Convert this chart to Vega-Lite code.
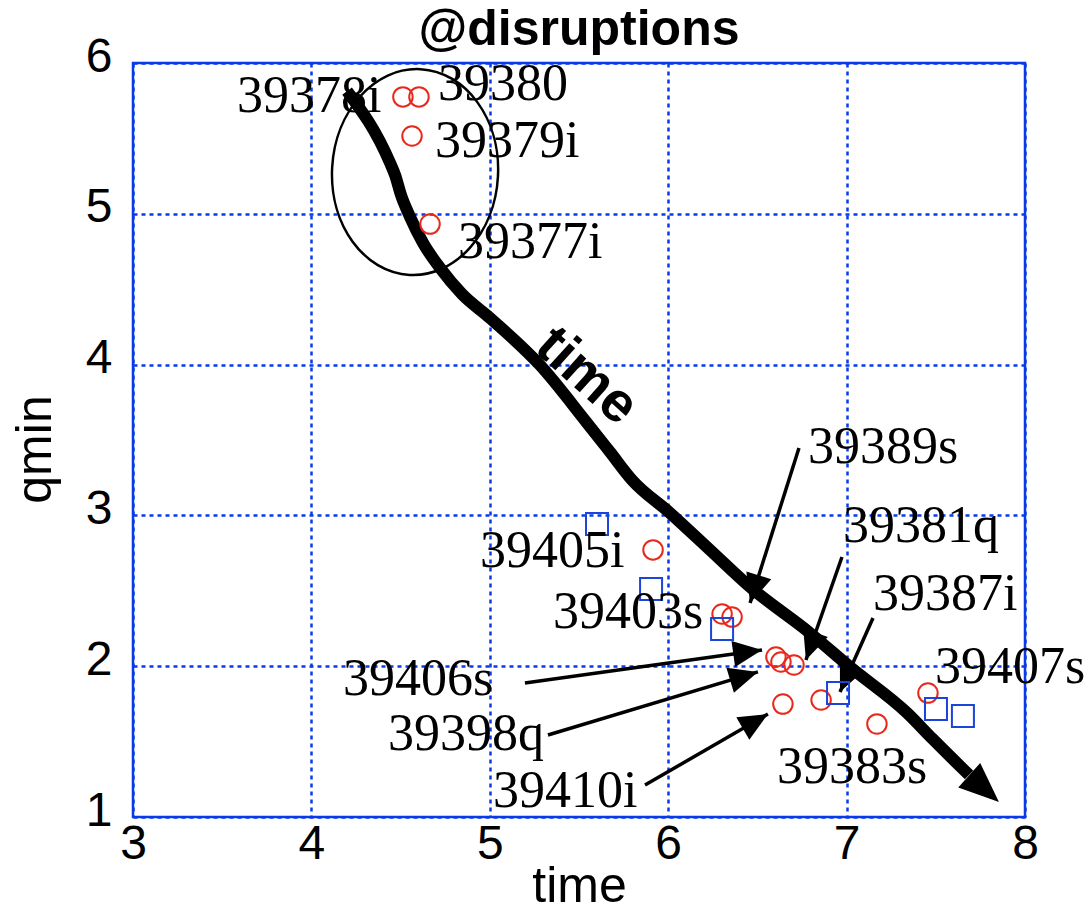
{
  "$schema": "https://vega.github.io/schema/vega-lite/v6.json",
  "width": 892,
  "height": 754,
  "autosize": {"type": "none"},
  "padding": {"left": 133, "top": 63, "right": 65, "bottom": 95},
  "background": "white",
  "title": {
    "text": "@disruptions",
    "font": "Liberation Sans",
    "fontWeight": "bold",
    "fontSize": 50,
    "color": "black",
    "anchor": "middle",
    "frame": "group",
    "baseline": "alphabetic",
    "offset": -62
  },
  "datasets": {
    "path": [
      {"o": 1, "x": 4.200, "y": 5.814},
      {"o": 2, "x": 4.441, "y": 5.337},
      {"o": 3, "x": 4.469, "y": 5.257},
      {"o": 4, "x": 4.502, "y": 5.125},
      {"o": 5, "x": 4.553, "y": 4.979},
      {"o": 6, "x": 4.626, "y": 4.806},
      {"o": 7, "x": 4.721, "y": 4.641},
      {"o": 8, "x": 4.844, "y": 4.468},
      {"o": 9, "x": 5.001, "y": 4.309},
      {"o": 10, "x": 5.281, "y": 3.997},
      {"o": 11, "x": 5.545, "y": 3.613},
      {"o": 12, "x": 5.674, "y": 3.420},
      {"o": 13, "x": 5.797, "y": 3.235},
      {"o": 14, "x": 6.010, "y": 3.016},
      {"o": 15, "x": 6.234, "y": 2.771},
      {"o": 16, "x": 6.459, "y": 2.525},
      {"o": 17, "x": 6.795, "y": 2.220},
      {"o": 18, "x": 7.019, "y": 1.995},
      {"o": 19, "x": 7.339, "y": 1.690},
      {"o": 20, "x": 7.480, "y": 1.520},
      {"o": 21, "x": 7.686, "y": 1.279}
    ],
    "pathTip": [
      {"x": 7.854, "y": 1.099, "heading": 42}
    ],
    "pathLabel": [
      {"x": 5.545, "y": 3.925, "t": "time"}
    ],
    "cluster": [
      {"x": 4.581, "y": 5.277}
    ],
    "shots": [
      {"kind": "circle", "x": 4.513, "y": 5.775},
      {"kind": "circle", "x": 4.603, "y": 5.775},
      {"kind": "circle", "x": 4.564, "y": 5.516},
      {"kind": "circle", "x": 4.665, "y": 4.932},
      {"kind": "circle", "x": 5.915, "y": 2.771},
      {"kind": "circle", "x": 6.302, "y": 2.346},
      {"kind": "circle", "x": 6.358, "y": 2.326},
      {"kind": "circle", "x": 6.604, "y": 2.061},
      {"kind": "circle", "x": 6.632, "y": 2.028},
      {"kind": "circle", "x": 6.705, "y": 2.008},
      {"kind": "circle", "x": 6.643, "y": 1.749},
      {"kind": "circle", "x": 6.857, "y": 1.776},
      {"kind": "circle", "x": 7.170, "y": 1.617},
      {"kind": "circle", "x": 7.456, "y": 1.822},
      {"kind": "square", "x": 5.601, "y": 2.943},
      {"kind": "square", "x": 5.904, "y": 2.512},
      {"kind": "square", "x": 6.302, "y": 2.247},
      {"kind": "square", "x": 6.952, "y": 1.822},
      {"kind": "square", "x": 7.501, "y": 1.716},
      {"kind": "square", "x": 7.652, "y": 1.670}
    ],
    "names": [
      {"t": "39378i", "x": 3.583, "y": 5.675},
      {"t": "39380", "x": 4.710, "y": 5.755},
      {"t": "39379i", "x": 4.693, "y": 5.377},
      {"t": "39377i", "x": 4.822, "y": 4.707},
      {"t": "39405i", "x": 4.945, "y": 2.658},
      {"t": "39403s", "x": 5.354, "y": 2.253},
      {"t": "39389s", "x": 6.784, "y": 3.347},
      {"t": "39381q", "x": 6.980, "y": 2.824},
      {"t": "39387i", "x": 7.148, "y": 2.373},
      {"t": "39407s", "x": 7.496, "y": 1.889},
      {"t": "39406s", "x": 4.177, "y": 1.809},
      {"t": "39398q", "x": 4.429, "y": 1.444},
      {"t": "39410i", "x": 5.018, "y": 1.066},
      {"t": "39383s", "x": 6.610, "y": 1.226}
    ],
    "pointers": [
      {"t": "39389s", "x": 6.733, "y": 3.447, "tx": 6.459, "ty": 2.419, "heading": 107.5},
      {"t": "39381q", "x": 6.974, "y": 2.724, "tx": 6.772, "ty": 2.041, "heading": 109.3},
      {"t": "39387i", "x": 7.148, "y": 2.320, "tx": 6.963, "ty": 1.829, "heading": 114},
      {"t": "39406s", "x": 5.197, "y": 1.889, "tx": 6.526, "ty": 2.107, "heading": -7.9},
      {"t": "39398q", "x": 5.326, "y": 1.544, "tx": 6.503, "ty": 1.962, "heading": -16.7},
      {"t": "39410i", "x": 5.870, "y": 1.212, "tx": 6.559, "ty": 1.683, "heading": -30}
    ]
  },
  "encoding": {
    "x": {
      "field": "x",
      "type": "quantitative",
      "scale": {"domain": [3, 8], "nice": false, "zero": false},
      "axis": {
        "values": [3, 4, 5, 6, 7, 8],
        "title": "time",
        "titleY": 84,
        "titleBaseline": "alphabetic"
      }
    },
    "y": {
      "field": "y",
      "type": "quantitative",
      "scale": {"domain": [1, 6], "nice": false, "zero": false},
      "axis": {
        "values": [1, 2, 3, 4, 5, 6],
        "title": "qmin",
        "labelBaseline": "middle",
        "labelOffset": -6,
        "labelPadding": 21,
        "titleAngle": 270,
        "titleX": -83,
        "titleY": 386,
        "titleAlign": "center",
        "titleBaseline": "alphabetic"
      }
    }
  },
  "layer": [
    {
      "data": {"name": "cluster"},
      "mark": {
        "type": "point",
        "shape": "M-0.806,0C-0.806,-0.552,-0.445,-1,0,-1C0.445,-1,0.806,-0.552,0.806,0C0.806,0.552,0.445,1,0,1C-0.445,1,-0.806,0.552,-0.806,0Z",
        "filled": false,
        "size": 42436,
        "angle": 3,
        "color": "black",
        "strokeWidth": 2.5,
        "opacity": 1
      }
    },
    {
      "data": {"name": "path"},
      "mark": {"type": "line", "color": "black", "strokeWidth": 12, "strokeJoin": "round", "strokeCap": "butt", "interpolate": "monotone"},
      "encoding": {"order": {"field": "o", "type": "quantitative"}}
    },
    {
      "data": {"name": "pathTip"},
      "mark": {
        "type": "point",
        "shape": "M0,0L-2,-0.82L-2,0.82Z",
        "filled": true,
        "size": 1600,
        "color": "black",
        "strokeWidth": 0,
        "opacity": 1
      },
      "encoding": {"angle": {"field": "heading", "type": "quantitative", "scale": null}}
    },
    {
      "data": {"name": "pathLabel"},
      "mark": {
        "type": "text",
        "font": "Liberation Sans",
        "fontWeight": "bold",
        "fontSize": 56,
        "angle": 42,
        "align": "center",
        "baseline": "middle",
        "color": "black"
      },
      "encoding": {"text": {"field": "t"}}
    },
    {
      "data": {"name": "pointers"},
      "mark": {"type": "rule", "color": "black", "strokeWidth": 3.5},
      "encoding": {"x2": {"field": "tx"}, "y2": {"field": "ty"}}
    },
    {
      "data": {"name": "pointers"},
      "mark": {
        "type": "point",
        "shape": "M0,0L-2,-0.9L-2,0.9Z",
        "filled": true,
        "size": 841,
        "color": "black",
        "strokeWidth": 0,
        "opacity": 1
      },
      "encoding": {
        "x": {"field": "tx", "type": "quantitative"},
        "y": {"field": "ty", "type": "quantitative"},
        "angle": {"field": "heading", "type": "quantitative", "scale": null}
      }
    },
    {
      "data": {"name": "shots"},
      "transform": [{"filter": "datum.kind === 'circle'"}],
      "mark": {"type": "point", "shape": "circle", "filled": false, "size": 380, "strokeWidth": 2, "color": "#e8281a", "opacity": 1}
    },
    {
      "data": {"name": "shots"},
      "transform": [{"filter": "datum.kind === 'square'"}],
      "mark": {"type": "point", "shape": "square", "filled": false, "size": 484, "strokeWidth": 2, "color": "#1a45d8", "opacity": 1}
    },
    {
      "data": {"name": "names"},
      "mark": {
        "type": "text",
        "font": "Liberation Serif",
        "fontSize": 52,
        "align": "left",
        "baseline": "alphabetic",
        "color": "black"
      },
      "encoding": {"text": {"field": "t"}}
    }
  ],
  "config": {
    "view": {"stroke": "#0a3be8", "strokeWidth": 2.5},
    "axis": {
      "grid": true,
      "gridColor": "#0a3be8",
      "gridDash": [4, 4],
      "gridWidth": 2.5,
      "gridOpacity": 1,
      "domain": false,
      "ticks": false,
      "labelFlush": false,
      "labelFont": "Liberation Sans",
      "labelFontSize": 48,
      "labelColor": "black",
      "labelPadding": 3,
      "titleFont": "Liberation Sans",
      "titleFontSize": 50,
      "titleFontWeight": "normal",
      "titleColor": "black"
    },
    "axisX": {"labelBaseline": "top"}
  }
}
